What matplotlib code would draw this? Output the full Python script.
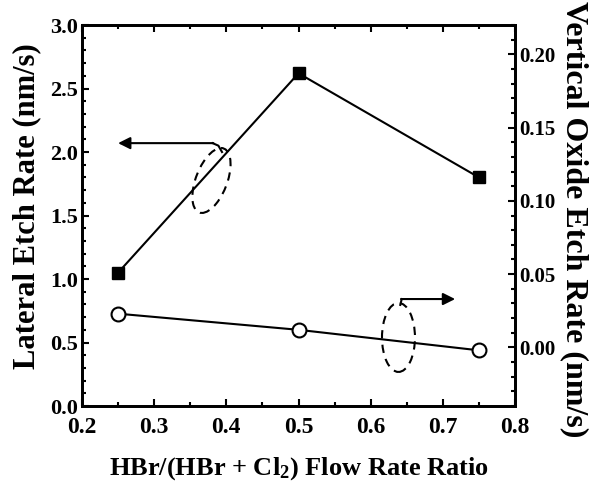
import numpy as np
import matplotlib
matplotlib.use('Agg')
import matplotlib.pyplot as plt
from matplotlib.patches import Ellipse
from matplotlib.ticker import MultipleLocator, FormatStrFormatter

# Etch rates vs. HBr fraction in the HBr/Cl2 mix
ratio = [0.25, 0.50, 0.75]
lateral_rate = [1.05, 2.62, 1.80]      # nm/s, left axis
vertical_oxide_rate = [0.023, 0.012, -0.002]  # nm/s, right axis

plt.rcParams['font.family'] = 'Liberation Serif'
plt.rcParams['font.weight'] = 'bold'
plt.rcParams['mathtext.fontset'] = 'custom'
plt.rcParams['mathtext.rm'] = 'Liberation Serif:bold'
plt.rcParams['mathtext.it'] = 'Liberation Serif:bold'
plt.rcParams['mathtext.bf'] = 'Liberation Serif:bold'

fig = plt.figure(figsize=(5.92, 4.91), dpi=100)
ax = fig.add_axes([0.1385, 0.1731, 0.7315, 0.7759])
ax2 = ax.twinx()

ax.plot(ratio, lateral_rate, color='black', lw=1.5, marker='s', ms=8,
        mfc='black', mec='black')
ax2.plot(ratio, vertical_oxide_rate, color='black', lw=1.5, marker='o', ms=10,
         mfc='white', mec='black', mew=1.5)

ax.set_xlim(0.2, 0.8)
ax.set_ylim(0.0, 3.0)
ax2.set_ylim(-0.04, 0.22)

ax.xaxis.set_major_locator(MultipleLocator(0.1))
ax.xaxis.set_minor_locator(MultipleLocator(0.05))
ax.yaxis.set_major_locator(MultipleLocator(0.5))
ax.yaxis.set_minor_locator(MultipleLocator(0.1))
ax2.yaxis.set_major_locator(MultipleLocator(0.05))
ax2.yaxis.set_minor_locator(MultipleLocator(0.01))
ax.xaxis.set_major_formatter(FormatStrFormatter('%.1f'))
ax.yaxis.set_major_formatter(FormatStrFormatter('%.1f'))
ax2.yaxis.set_major_formatter(FormatStrFormatter('%.2f'))

ax.tick_params(axis='x', which='both', direction='in', top=True, labelsize=17, pad=8)
ax.tick_params(axis='y', which='both', direction='in', right=False, labelsize=16, pad=3)
ax.tick_params(which='major', length=5, width=1.5)
ax.tick_params(which='minor', length=3, width=1.5)
ax2.tick_params(axis='y', which='both', direction='in', labelsize=15, pad=3)
ax2.tick_params(which='major', length=5, width=1.5)
ax2.tick_params(which='minor', length=3, width=1.5)

for a in (ax, ax2):
    for s in a.spines.values():
        s.set_linewidth(2)

ax.set_xlabel(r'HBr/(HBr + Cl$_2$) Flow Rate Ratio', fontsize=19,
              fontweight='bold', labelpad=12)
ax.set_ylabel('Lateral Etch Rate (nm/s)', fontsize=22, fontweight='bold')
ax.yaxis.set_label_coords(-0.095, 0.525)
ax2.set_ylabel('Vertical Oxide Etch Rate (nm/s)', fontsize=23, fontweight='bold',
               rotation=-90, va='bottom')
ax2.yaxis.set_label_coords(1.103, 0.49)

# dashed loops and arrows pointing to the matching axis
ax.add_patch(Ellipse((0.3794, 1.776), 0.0457, 0.512, angle=-3, fill=False,
                     ls=(0, (4, 3)), lw=1.5, color='black'))
ax2.add_patch(Ellipse((0.6385, 0.0068), 0.0457, 0.0471, angle=0, fill=False,
                      ls=(0, (4, 3)), lw=1.5, color='black'))

ax.plot([0.394, 0.389, 0.381], [2.0, 2.05, 2.07], color='black', lw=1.5)
ax.annotate('', xy=(0.250, 2.07), xytext=(0.382, 2.07),
            arrowprops=dict(arrowstyle='-|>', color='black', lw=1.5,
                            mutation_scale=18, shrinkA=0, shrinkB=0))
ax2.plot([0.641, 0.643], [0.029, 0.033], color='black', lw=1.5)
ax2.annotate('', xy=(0.717, 0.033), xytext=(0.642, 0.033),
             arrowprops=dict(arrowstyle='-|>', color='black', lw=1.5,
                             mutation_scale=18, shrinkA=0, shrinkB=0))

fig.savefig('out.png', dpi=100)
